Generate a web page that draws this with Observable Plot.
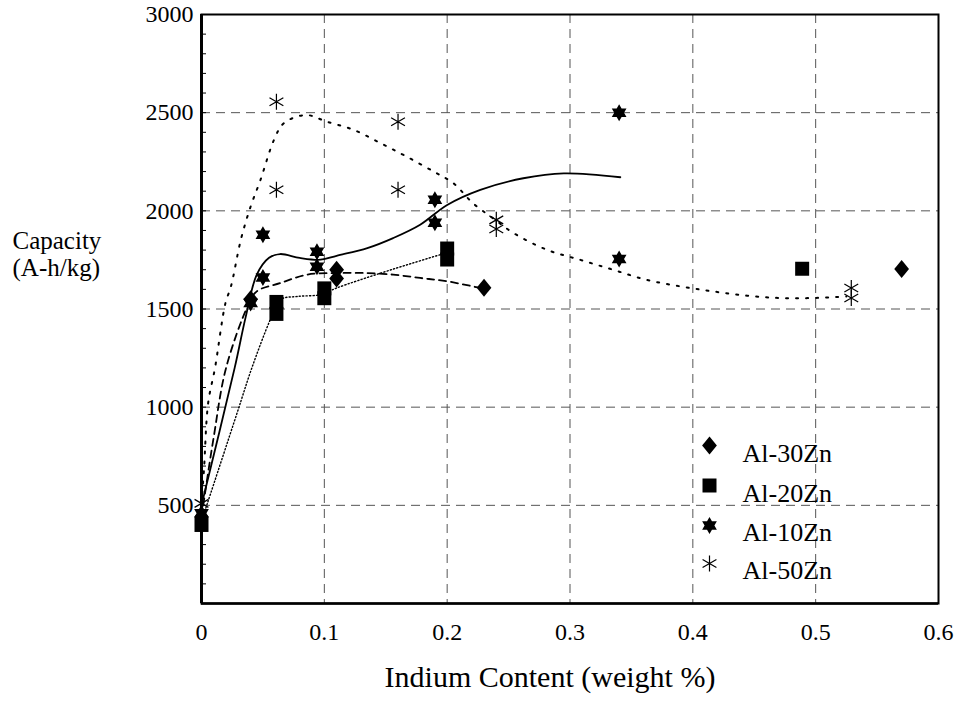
<!DOCTYPE html>
<html>
<head>
<meta charset="utf-8">
<script src="https://cdn.jsdelivr.net/npm/d3@7"></script>
<script src="https://cdn.jsdelivr.net/npm/@observablehq/plot@0.6"></script>
<style>
  html, body { margin: 0; padding: 0; background: white; }
  #chart svg, #chart svg text { font-family: "Liberation Serif", "Times New Roman", serif !important; }
</style>
</head>
<body>
<div id="chart"></div>
<script>
// ---- Data ----
const xTicks = [0, 0.1, 0.2, 0.3, 0.4, 0.5, 0.6];
const yTicks = [500, 1000, 1500, 2000, 2500, 3000];
const yMinorTicks = d3.range(100, 3000, 100);

const seriesNames = ["Al-30Zn", "Al-20Zn", "Al-10Zn", "Al-50Zn"];

// measured points
const al30X = [0, 0.04, 0.11, 0.11, 0.23, 0.57];
const al30Y = [440, 1550, 1700, 1655, 1608, 1704];
const al20X = [0, 0.061, 0.061, 0.10, 0.10, 0.20, 0.20, 0.489];
const al20Y = [400, 1536, 1475, 1605, 1555, 1808, 1752, 1705];
const al10X = [0, 0.04, 0.05, 0.05, 0.094, 0.094, 0.19, 0.19, 0.34, 0.34];
const al10Y = [460, 1530, 1660, 1878, 1791, 1715, 2056, 1939, 2500, 1755];
const al50X = [0, 0.061, 0.061, 0.16, 0.16, 0.24, 0.24, 0.529, 0.529];
const al50Y = [510, 2556, 2107, 2454, 2107, 1954, 1907, 1607, 1556];

// fitted curves [x, y]
const al10Fit = [[0,500],[0.027,1200],[0.036,1460],[0.045,1675],[0.055,1761],[0.064,1780],[0.080,1760],[0.097,1751],[0.110,1771],[0.135,1810],[0.156,1861],[0.178,1929],[0.200,2030],[0.227,2107],[0.262,2166],[0.295,2191],[0.341,2171]];
const al30Fit = [[0,440],[0.010,850],[0.020,1200],[0.038,1520],[0.045,1590],[0.064,1632],[0.086,1675],[0.110,1683],[0.135,1683],[0.156,1675],[0.178,1658],[0.200,1641],[0.227,1607]];
const al20Fit = [[0,420],[0.005,514],[0.029,971],[0.041,1200],[0.056,1446],[0.064,1547],[0.078,1564],[0.097,1573],[0.110,1607],[0.146,1683],[0.172,1734],[0.194,1776]];
const al50Fit = [[0,510],[0.002,680],[0.0054,1020],[0.011,1200],[0.0195,1530],[0.024,1615],[0.032,1852],[0.040,2022],[0.048,2157],[0.059,2361],[0.067,2446],[0.085,2488],[0.102,2454],[0.124,2412],[0.146,2344],[0.167,2276],[0.189,2200],[0.205,2141],[0.221,2039],[0.240,1950],[0.254,1887],[0.281,1802],[0.308,1751],[0.335,1700],[0.362,1649],[0.390,1615],[0.416,1590],[0.444,1568],[0.471,1556],[0.498,1556],[0.525,1564]];

// ---- Custom symbols (size = pi r^2) ----
const rad = size => Math.sqrt(size / Math.PI);
const symDiamond = { draw(ctx, size) { const R = rad(size), w = 0.82 * R;
  ctx.moveTo(0, -R); ctx.lineTo(w, 0); ctx.lineTo(0, R); ctx.lineTo(-w, 0); ctx.closePath(); } };
const symSquare = { draw(ctx, size) { const s = rad(size);
  ctx.moveTo(-s, -s); ctx.lineTo(s, -s); ctx.lineTo(s, s); ctx.lineTo(-s, s); ctx.closePath(); } };
const symHexagram = { draw(ctx, size) { const R = rad(size), r = R / Math.sqrt(3);
  for (let i = 0; i < 12; i++) { const a = -Math.PI / 2 + i * Math.PI / 6, q = i % 2 === 0 ? R : r;
    const px = q * Math.cos(a), py = q * Math.sin(a); if (i) ctx.lineTo(px, py); else ctx.moveTo(px, py); }
  ctx.closePath(); } };
const symAsterisk = { draw(ctx, size) { const R = rad(size);
  for (const a of [90, 30, 150]) { const t = a * Math.PI / 180, dx = R * Math.cos(t), dy = R * Math.sin(t);
    ctx.moveTo(-dx, -dy); ctx.lineTo(dx, dy); } } };

const styles = [
  { sym: symDiamond, r: 9, fill: "black", stroke: "none" },
  { sym: symSquare, r: 7, fill: "black", stroke: "none" },
  { sym: symHexagram, r: 8.5, fill: "black", stroke: "none" },
  { sym: symAsterisk, r: 8, fill: "none", stroke: "black" }
];
const pts = (xs, ys) => xs.map((x, i) => ({ x, y: ys[i] }));
const pointSets = [pts(al30X, al30Y), pts(al20X, al20Y), pts(al10X, al10Y), pts(al50X, al50Y)];

const dotMarks = pointSets.map((data, i) => Plot.dot(data, {
  x: "x", y: "y", symbol: styles[i].sym, r: styles[i].r,
  fill: styles[i].fill, stroke: styles[i].stroke, strokeWidth: 1.2
}));

// legend placed inside the frame
const legendDy = [431, 471, 511, 549];
const legendTextDy = [439, 479, 518, 556];
const legendMarks = seriesNames.flatMap((name, i) => [
  Plot.dot([name], { frameAnchor: "top-left", dx: 508, dy: legendDy[i], symbol: styles[i].sym, r: styles[i].r,
    fill: styles[i].fill, stroke: styles[i].stroke, strokeWidth: 1.2 }),
  Plot.text([name], { frameAnchor: "top-left", dx: 541, dy: legendTextDy[i], text: d => d,
    textAnchor: "start", lineAnchor: "middle", fontSize: 26, fill: "black" })
]);

const lineOf = (data, opts) => Plot.line(data, { x: d => d[0], y: d => d[1], curve: "catmull-rom", stroke: "black", ...opts });

const chart = Plot.plot({
  width: 960,
  height: 713,
  marginLeft: 201,
  marginRight: 22,
  marginTop: 14,
  marginBottom: 110,
  style: { background: "white", color: "black" },
  x: { domain: [0, 0.6] },
  y: { domain: [0, 3000] },
  marks: [
    Plot.gridX(xTicks.slice(1, -1), { stroke: "#555", strokeOpacity: 1, strokeWidth: 1, strokeDasharray: "9,6" }),
    Plot.gridY(yTicks.slice(0, -1), { stroke: "#555", strokeOpacity: 1, strokeWidth: 1, strokeDasharray: "9,6" }),
    Plot.axisX(xTicks, { tickSize: 0, tickPadding: 19, fontSize: 24, label: null, tickFormat: d => d === 0 ? "0" : String(d) }),
    Plot.axisY(yTicks, { tickSize: 0, tickPadding: 8, fontSize: 24, label: null, tickFormat: d => String(d) }),
    Plot.axisY(yMinorTicks, { tickSize: 5, dx: 5, tickFormat: () => "", label: null, strokeWidth: 1 }),
    Plot.frame({ stroke: "black", strokeWidth: 2 }),
    Plot.ruleX([0], { stroke: "black", strokeWidth: 3 }),
    Plot.ruleY([0], { stroke: "black", strokeWidth: 2.5 }),
    lineOf(al10Fit, { strokeWidth: 1.8 }),
    lineOf(al30Fit, { strokeWidth: 1.8, strokeDasharray: "7,5" }),
    lineOf(al20Fit, { strokeWidth: 1.4, strokeDasharray: "1.2,2.2" }),
    lineOf(al50Fit, { strokeWidth: 2, strokeDasharray: "2,8" }),
    ...dotMarks,
    ...legendMarks,
    Plot.text(["Indium Content (weight %)"], { frameAnchor: "bottom", dx: -20, dy: 74, lineAnchor: "middle", text: d => d, fontSize: 30, fill: "black" }),
    Plot.text(["Capacity\n(A-h/kg)"], { frameAnchor: "left", dx: -189, dy: -55, text: d => d, textAnchor: "start", lineAnchor: "middle", fontSize: 25, lineHeight: 1.08, fill: "black" })
  ]
});
document.getElementById("chart").appendChild(chart);
</script>
</body>
</html>
